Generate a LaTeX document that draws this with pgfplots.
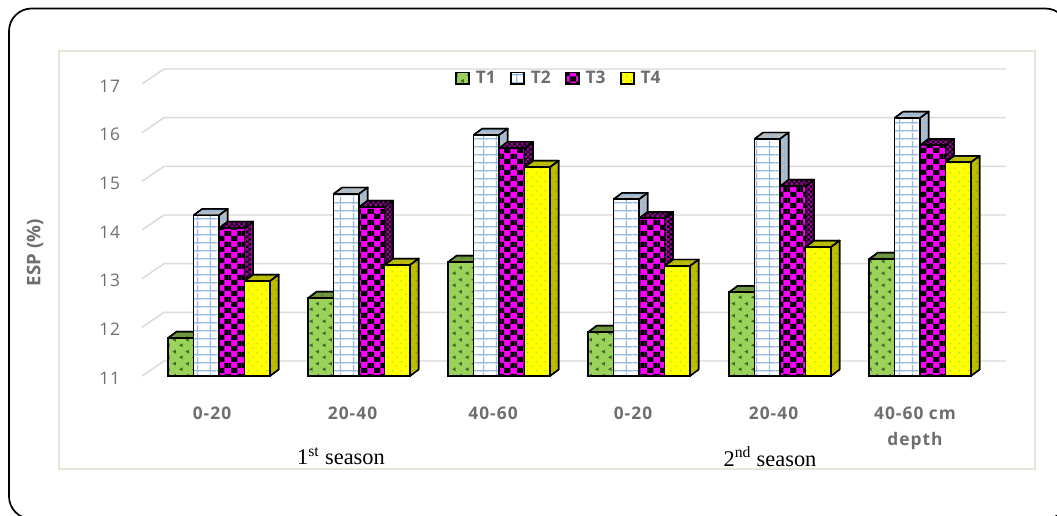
\documentclass[border=0pt]{standalone}
\usepackage{fontspec}
\setmainfont{Open Sans}
\newfontfamily\serifseason{Liberation Serif}
\newfontfamily\tickfont[LetterSpace=6]{Open Sans}
\newfontfamily\ytickfont[LetterSpace=5]{Open Sans}
\usepackage{pgfplots}
\usepackage{pgfplotstable}
\pgfplotsset{compat=1.18}
\usetikzlibrary{patterns}
\definecolor{txt}{HTML}{6E6E6E}
\definecolor{gridc}{HTML}{DADADA}
\definecolor{gridblue}{HTML}{94B8E0}
\definecolor{gr}{HTML}{9BD35A}
\definecolor{grd}{HTML}{6F963F}
\definecolor{ol}{HTML}{BDBD00}
\definecolor{grayt}{HTML}{B5BDC3}
\definecolor{pur}{HTML}{A000A0}
\definecolor{mag}{HTML}{FF00FF}
\definecolor{yel}{HTML}{FFFF00}
\definecolor{dgreen}{HTML}{3F6B2A}
\definecolor{lgreen}{HTML}{6CD050}
\definecolor{frameb}{HTML}{E8E4D8}
\pgfdeclarepatternformonly{chk}{\pgfqpoint{0pt}{0pt}}{\pgfqpoint{9.566pt}{8.25pt}}{\pgfqpoint{9.566pt}{8.25pt}}{%
 \pgfpathrectangle{\pgfqpoint{1.63pt}{0pt}}{\pgfqpoint{4.783pt}{4.125pt}}%
 \pgfpathrectangle{\pgfqpoint{6.413pt}{4.125pt}}{\pgfqpoint{3.153pt}{4.125pt}}%
 \pgfpathrectangle{\pgfqpoint{0pt}{4.125pt}}{\pgfqpoint{1.63pt}{4.125pt}}\pgfusepath{fill}}
\pgfdeclarepatternformonly{chks}{\pgfqpoint{0pt}{0pt}}{\pgfqpoint{4pt}{4pt}}{\pgfqpoint{4pt}{4pt}}{%
 \pgfpathrectangle{\pgfqpoint{0pt}{0pt}}{\pgfqpoint{2pt}{2pt}}%
 \pgfpathrectangle{\pgfqpoint{2pt}{2pt}}{\pgfqpoint{2pt}{2pt}}\pgfusepath{fill}}
\pgfdeclarepatternformonly{gridp}{\pgfqpoint{0pt}{0pt}}{\pgfqpoint{9.566pt}{6pt}}{\pgfqpoint{9.566pt}{6pt}}{%
 \pgfsetlinewidth{1pt}%
 \pgfpathmoveto{\pgfqpoint{0pt}{1pt}}\pgfpathlineto{\pgfqpoint{9.566pt}{1pt}}%
 \pgfpathmoveto{\pgfqpoint{5pt}{0pt}}\pgfpathlineto{\pgfqpoint{5pt}{6pt}}\pgfusepath{stroke}}
\pgfdeclarepatternformonly{dotsa}{\pgfqpoint{0pt}{0pt}}{\pgfqpoint{9.566pt}{9pt}}{\pgfqpoint{9.566pt}{9pt}}{%
 \pgfpathmoveto{\pgfqpoint{3.6pt}{3.8pt}}\pgfpathlineto{\pgfqpoint{0.8pt}{2.2pt}}\pgfpathlineto{\pgfqpoint{3.6pt}{0.6pt}}\pgfpathclose
 \pgfpathmoveto{\pgfqpoint{8.4pt}{8.3pt}}\pgfpathlineto{\pgfqpoint{5.6pt}{6.7pt}}\pgfpathlineto{\pgfqpoint{8.4pt}{5.1pt}}\pgfpathclose
 \pgfusepath{fill}}
\pgfdeclarepatternformonly{dotsb}{\pgfqpoint{0pt}{0pt}}{\pgfqpoint{7pt}{7pt}}{\pgfqpoint{7pt}{7pt}}{%
 \pgfpathcircle{\pgfqpoint{1.5pt}{1.5pt}}{0.55pt}\pgfpathcircle{\pgfqpoint{5pt}{5pt}}{0.55pt}\pgfusepath{fill}}

\tikzset{
 faceT1/.style={preaction={fill=gr},pattern=dotsa,pattern color=dgreen,draw=black},
 faceT2/.style={preaction={fill=white},pattern=gridp,pattern color=gridblue,draw=black},
 faceT3/.style={preaction={fill=mag},pattern=chk,pattern color=black,draw=black},
 faceT4/.style={preaction={fill=yel},pattern=dotsb,pattern color=lgreen,draw=black},
 topT1/.style={preaction={fill=grd},pattern=dotsb,pattern color=dgreen,draw=black},
 topT2/.style={preaction={fill=grayt},pattern=gridp,pattern color=gridblue,draw=black},
 topT3/.style={preaction={fill=pur},pattern=chks,pattern color=black,draw=black},
 topT4/.style={preaction={fill=ol},pattern=dotsb,pattern color=ol!70!black,draw=black},
}
\pgfplotstableread{
x v
168 11.78
308 12.60
448 13.34
588 11.90
729 12.72
869 13.40
}\dataA
\pgfplotstableread{
x v
193.5 14.30
333.5 14.74
473.5 15.95
613.5 14.63
754.5 15.87
894.5 16.30
}\dataB
\pgfplotstableread{
x v
219 14.04
359 14.47
499 15.68
639 14.24
780 14.90
920 15.74
}\dataC
\pgfplotstableread{
x v
244.5 12.95
384.5 13.28
524.5 15.29
664.5 13.26
805.5 13.65
945.5 15.39
}\dataD
\newcommand\series[2]{%
 \pgfplotsforeachungrouped \i in {0,...,5}{%
  \pgfplotstablegetelem{\i}{x}\of#1\let\cx\pgfplotsretval
  \pgfplotstablegetelem{\i}{v}\of#1\let\cv\pgfplotsretval
  \pgfmathsetmacro\xa{\cx+25.5}\pgfmathsetmacro\xb{\cx+8.7}\pgfmathsetmacro\xc{\cx+34.2}\pgfmathsetmacro\vt{\cv+0.1335}%
  \addplot[forget plot,line width=1.1pt,line join=round,top#2] coordinates {(\cx,\cv) (\xb,\vt) (\xc,\vt) (\xa,\cv) (\cx,\cv)};
  \addplot[forget plot,line width=1.1pt,line join=round,top#2] coordinates {(\xa,\cv) (\xc,\vt) (\xc,11.1335) (\xa,11) (\xa,\cv)};
 }%
 \addplot[ybar,bar width=25.5,bar shift=12.75,line width=1.3pt,face#2,
   legend image code/.code={\path[line width=0.8pt,face#2] (0pt,-4.2pt) rectangle (9.5pt,4.2pt);\path (12pt,0pt);}]
   table[x=x,y=v] {#1};
}
\begin{document}
\begin{tikzpicture}[x=0.75pt,y=0.75pt]
\useasboundingbox (0,0) rectangle (1057,516);
\clip (0,0) rectangle (1057,516);
\fill[white] (0,0) rectangle (1057,516);
\draw[line width=1.3pt,rounded corners=17pt] (9,-3) rectangle (1068,507.5);
\draw[line width=0.8pt,color=frameb] (59,47) rectangle (1035,465);
\begin{axis}[
 at={(106.5pt,105pt)},anchor=south west,scale only axis,
 width=648pt,height=219pt,
 xmin=142,xmax=1006,ymin=11,ymax=17,clip=false,
 axis line style={draw=none},
 ytick={11,...,17},
 xtick={212,352.5,493,633,773.5,915},
 xticklabels={0-20,20-40,40-60,0-20,20-40,40-60 cm\\depth},
 major tick length=0pt,
 /pgf/number format/assume math mode=true,
 yticklabel style={font=\ytickfont\fontsize{13}{15}\selectfont,text=txt,xshift=-13pt,yshift=-1.5pt},
 xticklabel style={font=\tickfont\bfseries\fontsize{13}{19}\selectfont,text=txt,align=center,anchor=north,yshift=-20pt},
 ylabel={ESP (\%)},
 every axis y label/.style={at={(axis cs:35,13.53)},rotate=90,anchor=center,font=\bfseries\fontsize{14}{16}\selectfont,text=txt},
 legend columns=4,
 legend style={at={(axis cs:559.5,17.12)},anchor=center,draw=none,fill=none,
   font=\bfseries\fontsize{13}{15}\selectfont,text=txt,
   /tikz/every even column/.style={column sep=9.2pt},inner sep=0pt},
]
\pgfplotsinvokeforeach{11,...,17}{
 \pgfmathsetmacro\vb{#1+0.308}
 \addplot[forget plot,gridc,line width=1.1pt] coordinates {(142,#1) (164,\vb) (1006,\vb)};
}
\series{\dataA}{T1}
\series{\dataB}{T2}
\series{\dataC}{T3}
\series{\dataD}{T4}
\legend{T1,T2,T3,T4}
\end{axis}
\node[font=\serifseason\fontsize{16.8}{18}\selectfont] at (341,59.5) {1\textsuperscript{st} season};
\node[font=\serifseason\fontsize{16.8}{18}\selectfont] at (770,59.5) {2\textsuperscript{nd} season};
\end{tikzpicture}
\end{document}
